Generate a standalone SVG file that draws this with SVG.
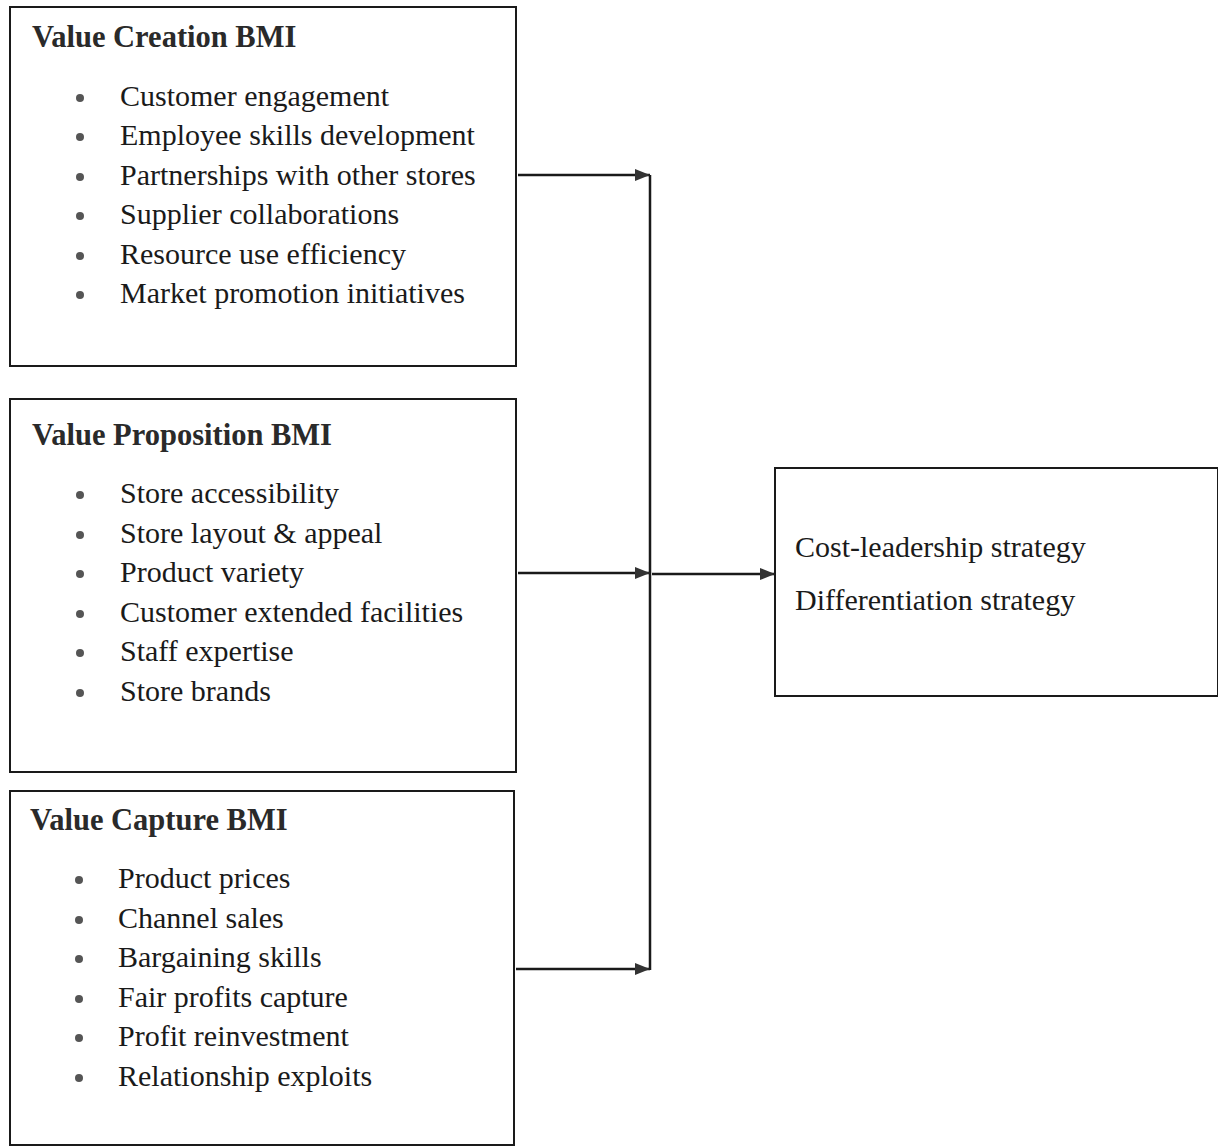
<svg xmlns="http://www.w3.org/2000/svg" width="1218" height="1146" viewBox="0 0 1218 1146">
<style>
.box{fill:#fff;stroke:#1a1a1a;stroke-width:2}
.t{font-family:"Liberation Serif",serif;font-size:30px;fill:#1a1a1a}
.s{font-family:"Liberation Serif",serif;font-size:30px;fill:#1a1a1a}
.h{font-family:"Liberation Serif",serif;font-size:30.5px;font-weight:bold;fill:#2a2a2a}
.b{fill:#555}
.c{stroke:#1a1a1a;stroke-width:2.5;fill:none}
</style>
<defs>
<marker id="ah" markerWidth="15" markerHeight="12" refX="15" refY="6" orient="auto" markerUnits="userSpaceOnUse" viewBox="0 0 15 12">
<path d="M0,0 L15,6 L0,12 Z" fill="#333"/>
</marker>
</defs>
<rect width="1218" height="1146" fill="#fff"/>
<g id="creation">
<rect class="box" x="10" y="7" width="506" height="359"/>
<text class="h" x="32" y="47">Value Creation BMI</text>
<circle class="b" cx="80" cy="98" r="4"/><text class="t" x="120" y="106">Customer engagement</text>
<circle class="b" cx="80" cy="137" r="4"/><text class="t" x="120" y="145">Employee skills development</text>
<circle class="b" cx="80" cy="177" r="4"/><text class="t" x="120" y="185">Partnerships with other stores</text>
<circle class="b" cx="80" cy="216" r="4"/><text class="t" x="120" y="224">Supplier collaborations</text>
<circle class="b" cx="80" cy="256" r="4"/><text class="t" x="120" y="264">Resource use efficiency</text>
<circle class="b" cx="80" cy="295" r="4"/><text class="t" x="120" y="303">Market promotion initiatives</text>
</g>
<g id="proposition">
<rect class="box" x="10" y="399" width="506" height="373"/>
<text class="h" x="32" y="445">Value Proposition BMI</text>
<circle class="b" cx="80" cy="495" r="4"/><text class="t" x="120" y="503">Store accessibility</text>
<circle class="b" cx="80" cy="535" r="4"/><text class="t" x="120" y="543">Store layout &amp; appeal</text>
<circle class="b" cx="80" cy="574" r="4"/><text class="t" x="120" y="582">Product variety</text>
<circle class="b" cx="80" cy="614" r="4"/><text class="t" x="120" y="622">Customer extended facilities</text>
<circle class="b" cx="80" cy="653" r="4"/><text class="t" x="120" y="661">Staff expertise</text>
<circle class="b" cx="80" cy="693" r="4"/><text class="t" x="120" y="701">Store brands</text>
</g>
<g id="capture">
<rect class="box" x="10" y="791" width="504" height="354"/>
<text class="h" x="30" y="830">Value Capture BMI</text>
<circle class="b" cx="79" cy="880" r="4"/><text class="t" x="118" y="888">Product prices</text>
<circle class="b" cx="79" cy="920" r="4"/><text class="t" x="118" y="928">Channel sales</text>
<circle class="b" cx="79" cy="959" r="4"/><text class="t" x="118" y="967">Bargaining skills</text>
<circle class="b" cx="79" cy="999" r="4"/><text class="t" x="118" y="1007">Fair profits capture</text>
<circle class="b" cx="79" cy="1038" r="4"/><text class="t" x="118" y="1046">Profit reinvestment</text>
<circle class="b" cx="79" cy="1078" r="4"/><text class="t" x="118" y="1086">Relationship exploits</text>
</g>
<g id="strategy">
<rect class="box" x="775" y="468" width="443" height="228"/>
<text class="s" x="795" y="557">Cost-leadership strategy</text>
<text class="s" x="795" y="610">Differentiation strategy</text>
</g>
<g id="connectors">
<line class="c" x1="650" y1="175" x2="650" y2="970"/>
<line class="c" x1="518" y1="175" x2="650" y2="175" marker-end="url(#ah)"/>
<line class="c" x1="518" y1="573" x2="650" y2="573" marker-end="url(#ah)"/>
<line class="c" x1="516" y1="969" x2="650" y2="969" marker-end="url(#ah)"/>
<line class="c" x1="652" y1="574" x2="775" y2="574" marker-end="url(#ah)"/>
</g>
</svg>
